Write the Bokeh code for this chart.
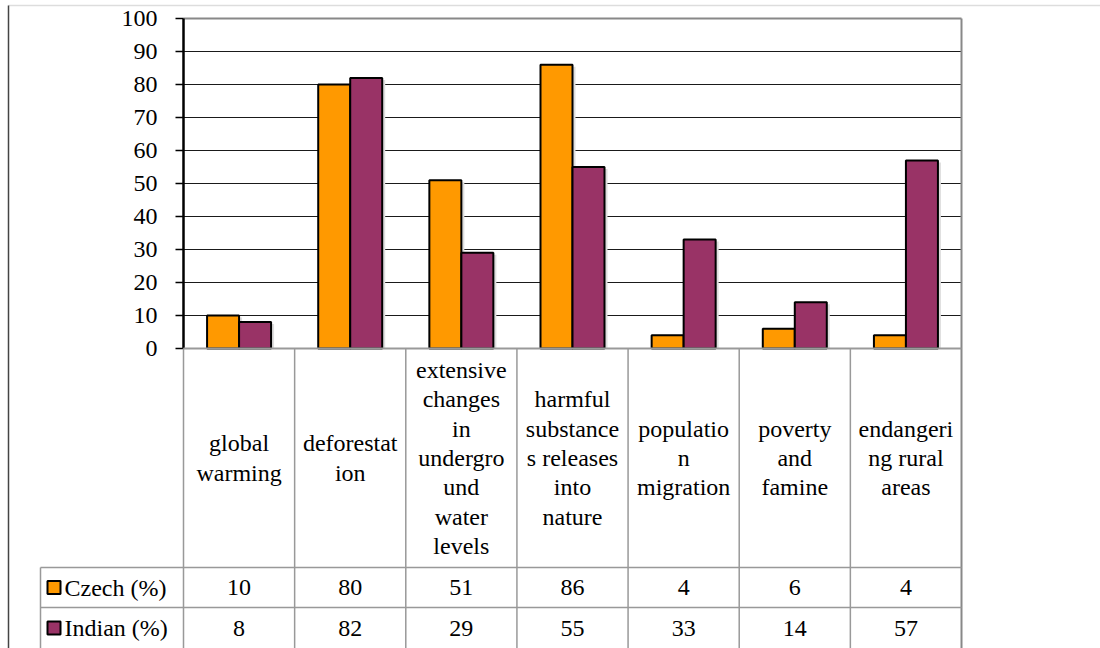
from bokeh.plotting import figure
from bokeh.models import ColumnDataSource, Range1d
from bokeh.core.properties import value
from bokeh.embed import file_html
from bokeh.resources import INLINE

# ---- data -------------------------------------------------------------
categories = [
    "global warming",
    "deforestation",
    "extensive changes in underground water levels",
    "harmful substances releases into nature",
    "population migration",
    "poverty and famine",
    "endangering rural areas",
]
# category captions as they wrap inside the table header cells
category_lines = [
    ["global", "warming"],
    ["deforestat", "ion"],
    ["extensive", "changes", "in", "undergro", "und", "water", "levels"],
    ["harmful", "substance", "s releases", "into", "nature"],
    ["populatio", "n", "migration"],
    ["poverty", "and", "famine"],
    ["endangeri", "ng rural", "areas"],
]
series_names = ["Czech (%)", "Indian (%)"]
czech = [10, 80, 51, 86, 4, 6, 4]
indian = [8, 82, 29, 55, 33, 14, 57]
y_ticks = [0, 10, 20, 30, 40, 50, 60, 70, 80, 90, 100]

ORANGE = "#FF9900"
PURPLE = "#993366"
GRID = "#999999"
FONT = value("Liberation Serif")
FSIZE = "24px"

# ---- layout helpers (pixel -> data) -----------------------------------
W, H = 1100, 648
PLOT_L, PLOT_R, PLOT_T, PLOT_B = 183, 961, 18, 348
n_cat = len(categories)
cw = (PLOT_R - PLOT_L) / n_cat          # pixels per category
pu = (PLOT_B - PLOT_T) / 100.0          # pixels per percent


def px_x(px):
    return (px - PLOT_L) / cw


def px_y(py):
    return (PLOT_B - py) / pu


p = figure(
    width=W, height=H,
    x_range=Range1d(px_x(0), px_x(W)),
    y_range=Range1d(px_y(H), px_y(0)),
    x_axis_type=None, y_axis_type=None,
    output_backend="svg", toolbar_location=None,
    min_border=0, outline_line_color=None,
    background_fill_color="white", border_fill_color="white",
)
p.grid.visible = False

# ---- horizontal gridlines --------------------------------------------
inner = y_ticks[1:-1]
p.segment(x0=[0] * len(inner), x1=[n_cat] * len(inner), y0=inner, y1=inner,
          line_color="#1a1a1a", line_width=1.2)

# ---- bars, each with a faint drop shadow ---------------------------------
bw = 32 / cw
sx = 3 / cw
sy = 2 / pu
centers = [i + 0.5 for i in range(n_cat)]
src = ColumnDataSource(dict(
    xc=[c - bw / 2 for c in centers],
    xi=[c + bw / 2 for c in centers],
    xc_s=[c - bw / 2 + sx for c in centers],
    xi_s=[c + bw / 2 + sx for c in centers],
    czech=czech, indian=indian,
    czech_s=[v - sy for v in czech],
    indian_s=[v - sy for v in indian],
))
p.vbar(x="xc_s", top="czech_s", bottom=0, width=bw, source=src,
       fill_color="#dedede", line_color=None)
p.vbar(x="xi_s", top="indian_s", bottom=0, width=bw, source=src,
       fill_color="#dedede", line_color=None)
p.vbar(x="xc", top="czech", bottom=0, width=bw, source=src,
       fill_color=ORANGE, line_color="black", line_width=2)
p.vbar(x="xi", top="indian", bottom=0, width=bw, source=src,
       fill_color=PURPLE, line_color="black", line_width=2)

# ---- plot frame: grey top/right border, black value axis ---------------
p.segment(x0=[0, n_cat], x1=[n_cat, n_cat], y0=[100, 100], y1=[100, px_y(H)],
          line_color="#888888", line_width=2)
p.segment(x0=[0], x1=[0], y0=[0], y1=[100], line_color="black", line_width=2.5)
p.segment(x0=[px_x(175)] * len(y_ticks), x1=[0] * len(y_ticks),
          y0=y_ticks, y1=y_ticks, line_color="black", line_width=1.5)
p.text(x=[0] * len(y_ticks), y=y_ticks, text=[str(t) for t in y_ticks],
       x_offset=-26, text_align="right", text_baseline="middle",
       text_font=FONT, text_font_size=FSIZE, text_color="black")

# ---- data table under the chart ----------------------------------------
row1_top = px_y(567)
row2_top = px_y(607)
bottom = px_y(H)
tbl_left = px_x(40)

# column separators through the header and both rows
xs = list(range(n_cat))
p.segment(x0=xs, x1=xs, y0=[0] * n_cat, y1=[bottom] * n_cat,
          line_color=GRID, line_width=1.5)
# baseline under the bars
p.segment(x0=[0], x1=[n_cat], y0=[0], y1=[0], line_color=GRID, line_width=2)
# row borders and the series-name column
p.segment(x0=[tbl_left, tbl_left], x1=[n_cat, n_cat],
          y0=[row1_top, row2_top], y1=[row1_top, row2_top],
          line_color=GRID, line_width=1.5)
p.segment(x0=[tbl_left], x1=[tbl_left], y0=[row1_top], y1=[bottom],
          line_color=GRID, line_width=1.5)

# header captions, centred vertically in the header cell
pitch = 29.3 / pu
head_mid = px_y((PLOT_B + 567) / 2)
lx, ly, lt = [], [], []
for i, lines in enumerate(category_lines):
    n = len(lines)
    for k, line in enumerate(lines):
        lx.append(i + 0.5)
        ly.append(head_mid - (k - (n - 1) / 2) * pitch)
        lt.append(line)
p.text(x=lx, y=ly, text=lt, text_align="center", text_baseline="middle",
       text_font=FONT, text_font_size=FSIZE, text_color="black")

# value rows
r1 = (row1_top + row2_top) / 2
r2 = (row2_top + bottom) / 2
p.text(x=centers, y=[r1] * n_cat, text=[str(v) for v in czech],
       text_align="center", text_baseline="middle",
       text_font=FONT, text_font_size=FSIZE, text_color="black")
p.text(x=centers, y=[r2] * n_cat, text=[str(v) for v in indian],
       text_align="center", text_baseline="middle",
       text_font=FONT, text_font_size=FSIZE, text_color="black")

# legend keys and series names
p.scatter(x=[px_x(53.5)] * 2, y=[r1, r2], marker="square", size=13,
          fill_color=[ORANGE, PURPLE], line_color="black", line_width=2)
p.text(x=[px_x(64)] * 2, y=[r1, r2], text=series_names,
       text_align="left", text_baseline="middle",
       text_font=FONT, text_font_size=FSIZE, text_color="black")

# ---- outer frame of the sheet ------------------------------------------
p.segment(x0=[px_x(8)], x1=[px_x(W)], y0=[px_y(5)], y1=[px_y(5)],
          line_color="#dddddd", line_width=1.5)
p.segment(x0=[px_x(8)], x1=[px_x(8)], y0=[px_y(5)], y1=[px_y(H)],
          line_color="#444444", line_width=1.5)

open("out.html", "w").write(file_html(p, INLINE))
